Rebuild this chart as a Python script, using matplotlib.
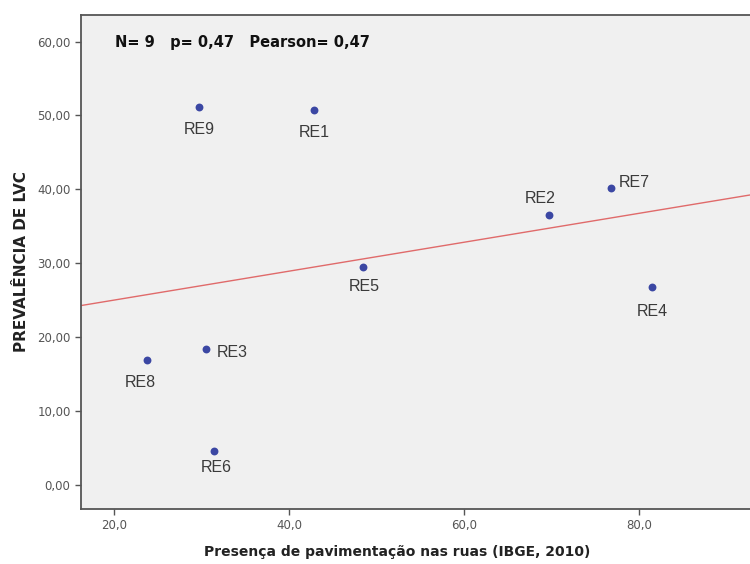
import numpy as np
import matplotlib
matplotlib.use("Agg")
import matplotlib.pyplot as plt
from matplotlib.ticker import FuncFormatter

# Regiões e valores
regions = ["RE1", "RE2", "RE3", "RE4", "RE5", "RE6", "RE7", "RE8", "RE9"]
paving = [42.85, 69.7, 30.5, 81.5, 48.5, 31.4, 76.8, 23.7, 29.7]
prevalence = [50.7, 36.5, 18.4, 26.8, 29.5, 4.6, 40.2, 16.9, 51.2]

x_ticks = [20, 40, 60, 80]
y_ticks = [0, 10, 20, 30, 40, 50, 60]

# label offsets (pixels) and alignment for each region
label_pos = {
    "RE1": (0, -22, "center"),
    "RE2": (-9, 17, "center"),
    "RE3": (11, -4, "left"),
    "RE4": (0, -25, "center"),
    "RE5": (1, -20, "center"),
    "RE6": (2, -17, "center"),
    "RE7": (8, 5, "left"),
    "RE8": (-6, -23, "center"),
    "RE9": (0, -23, "center"),
}

fig = plt.figure(figsize=(7.5, 5.64), dpi=100)
ax = fig.add_axes([81 / 750, 1 - 509 / 564, 1 - 81 / 750, (509 - 15) / 564])
ax.set_facecolor("#f0f0f0")

xmin, xmax = 16.2, 92.7
ax.set_xlim(xmin, xmax)
ax.set_ylim(-3.3, 63.6)

# linear fit line
slope, intercept = np.polyfit(paving, prevalence, 1)
xl = np.array([xmin, xmax])
ax.plot(xl, intercept + slope * xl, color="#e06a6a", lw=1.0, zorder=2)

ax.scatter(paving, prevalence, s=32, color="#3b47a3", zorder=3, linewidths=0)

for name, xv, yv in zip(regions, paving, prevalence):
    dx, dy, ha = label_pos[name]
    ax.annotate(name, (xv, yv), xytext=(dx, dy), textcoords="offset pixels",
                ha=ha, va="center", fontsize=11.5, color="#3a3a3a",
                family="Liberation Sans")

fig.text(115 / 750, 1 - 42 / 564, "N= 9   p= 0,47   Pearson= 0,47",
         fontsize=10.5, fontweight="bold", color="#111111", va="center", ha="left")

ax.set_xticks(x_ticks)
ax.set_yticks(y_ticks)
ax.xaxis.set_major_formatter(FuncFormatter(lambda v, p: f"{v:.1f}".replace(".", ",")))
ax.yaxis.set_major_formatter(FuncFormatter(lambda v, p: f"{v:.2f}".replace(".", ",")))
ax.tick_params(axis="both", direction="out", length=4, width=1, color="#555555",
               labelsize=8.5, labelcolor="#555555")

for side in ["left", "bottom", "top"]:
    ax.spines[side].set_color("#555555")
    ax.spines[side].set_linewidth(1.3)
ax.spines["right"].set_visible(False)

fig.text(397 / 750, 1 - 552 / 564, "Presença de pavimentação nas ruas (IBGE, 2010)",
         fontsize=10, fontweight="bold", color="#222222", ha="center", va="center")
ax.set_ylabel("PREVALÊNCIA DE LVC", fontsize=11, fontweight="bold",
              color="#222222", labelpad=6)

fig.savefig("out.png", dpi=100, facecolor="white")
